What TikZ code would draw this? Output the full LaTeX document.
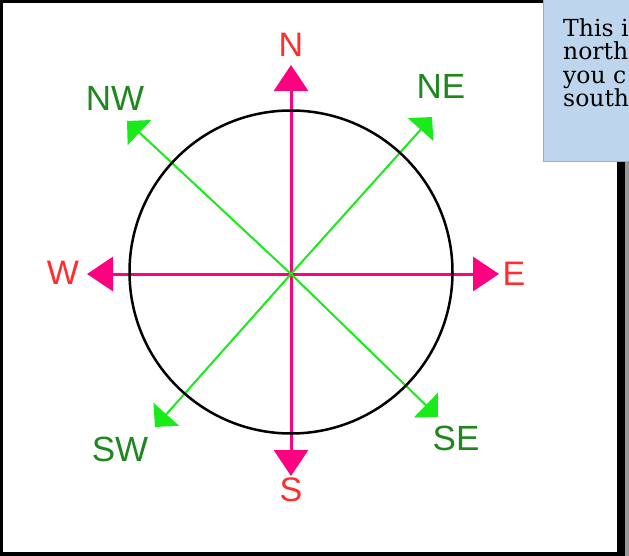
\documentclass[tikz,border=0pt]{standalone}
\usepackage{fontspec}
\usepackage{xcolor}
\usepackage{tikz}
\usetikzlibrary{arrows.meta}

\newfontfamily\compassfont{Liberation Sans}
\newfontfamily\notefont{DejaVu Serif}

\definecolor{rosepink}{RGB}{255,0,128}
\definecolor{lightgreen}{RGB}{25,235,25}
\definecolor{darkgreen}{RGB}{30,135,30}
\definecolor{labelred}{RGB}{255,45,45}
\definecolor{notefill}{RGB}{190,214,237}
\definecolor{noteline}{RGB}{150,172,200}

\begin{document}
\begin{tikzpicture}[
    x=1pt, y=-1pt,
    mainline/.style={draw=rosepink, line width=3pt, -{Triangle[length=26pt, width=34pt]}},
    diagline/.style={draw=lightgreen, line width=2pt, -{Triangle[length=17pt, width=34pt]}},
    ring/.style={circle, draw=black, line width=2.5pt, minimum size=323pt, inner sep=0pt},
    cardinal/.style={text=labelred, font=\compassfont\fontsize{34}{34}\selectfont, inner sep=0pt},
    between/.style={text=darkgreen, font=\compassfont\fontsize{35}{35}\selectfont, inner sep=0pt},
    notetext/.style={font=\notefont\fontsize{23.5}{23.5}\selectfont, align=left, inner sep=0pt, anchor=north west}
]
    \useasboundingbox (0,0) rectangle (629,556);
    \clip (0,0) rectangle (629,556);

    % frame
    \fill[black] (0,0) rectangle (625,556);
    \fill[black!40] (625,162) rectangle (629,556);
    \fill[white] (3,3) rectangle (617,552);

    % centre and arrow ends
    \coordinate (c) at (291,274);
    \coordinate (tipN) at (291,65);
    \coordinate (tipS) at (291,476);
    \coordinate (tipW) at (87,274);
    \coordinate (tipE) at (499,274);
    \coordinate (tipNW) at (127,121);
    \coordinate (tipNE) at (432,117);
    \coordinate (tipSW) at (155,427);
    \coordinate (tipSE) at (438,417);

    \draw [mainline] (c) -- (tipN);
    \draw [mainline] (c) -- (tipS);
    \draw [mainline] (c) -- (tipW);
    \draw [mainline] (c) -- (tipE);
    \draw [diagline] (c) -- (tipNW);
    \draw [diagline] (c) -- (tipNE);
    \draw [diagline] (c) -- (tipSW);
    \draw [diagline] (c) -- (tipSE);

    \node [ring] (dial) at (291,272) {};

    % labels
    \node [cardinal] (lN) at (291,45) {N};
    \node [cardinal] (lS) at (291,490) {S};
    \node [cardinal] (lW) at (63,273) {W};
    \node [cardinal] (lE) at (514,274) {E};
    \node [between] (lNW) at (115,98) {NW};
    \node [between] (lNE) at (441,86) {NE};
    \node [between] (lSW) at (120,449) {SW};
    \node [between] (lSE) at (456,438) {SE};

    % note box
    \fill[notefill, draw=noteline, line width=1pt] (543,-2) rectangle (640,162);
    \node [notetext] (note) at (563,18) {This i\\north\\you c\\south};
\end{tikzpicture}
\end{document}
